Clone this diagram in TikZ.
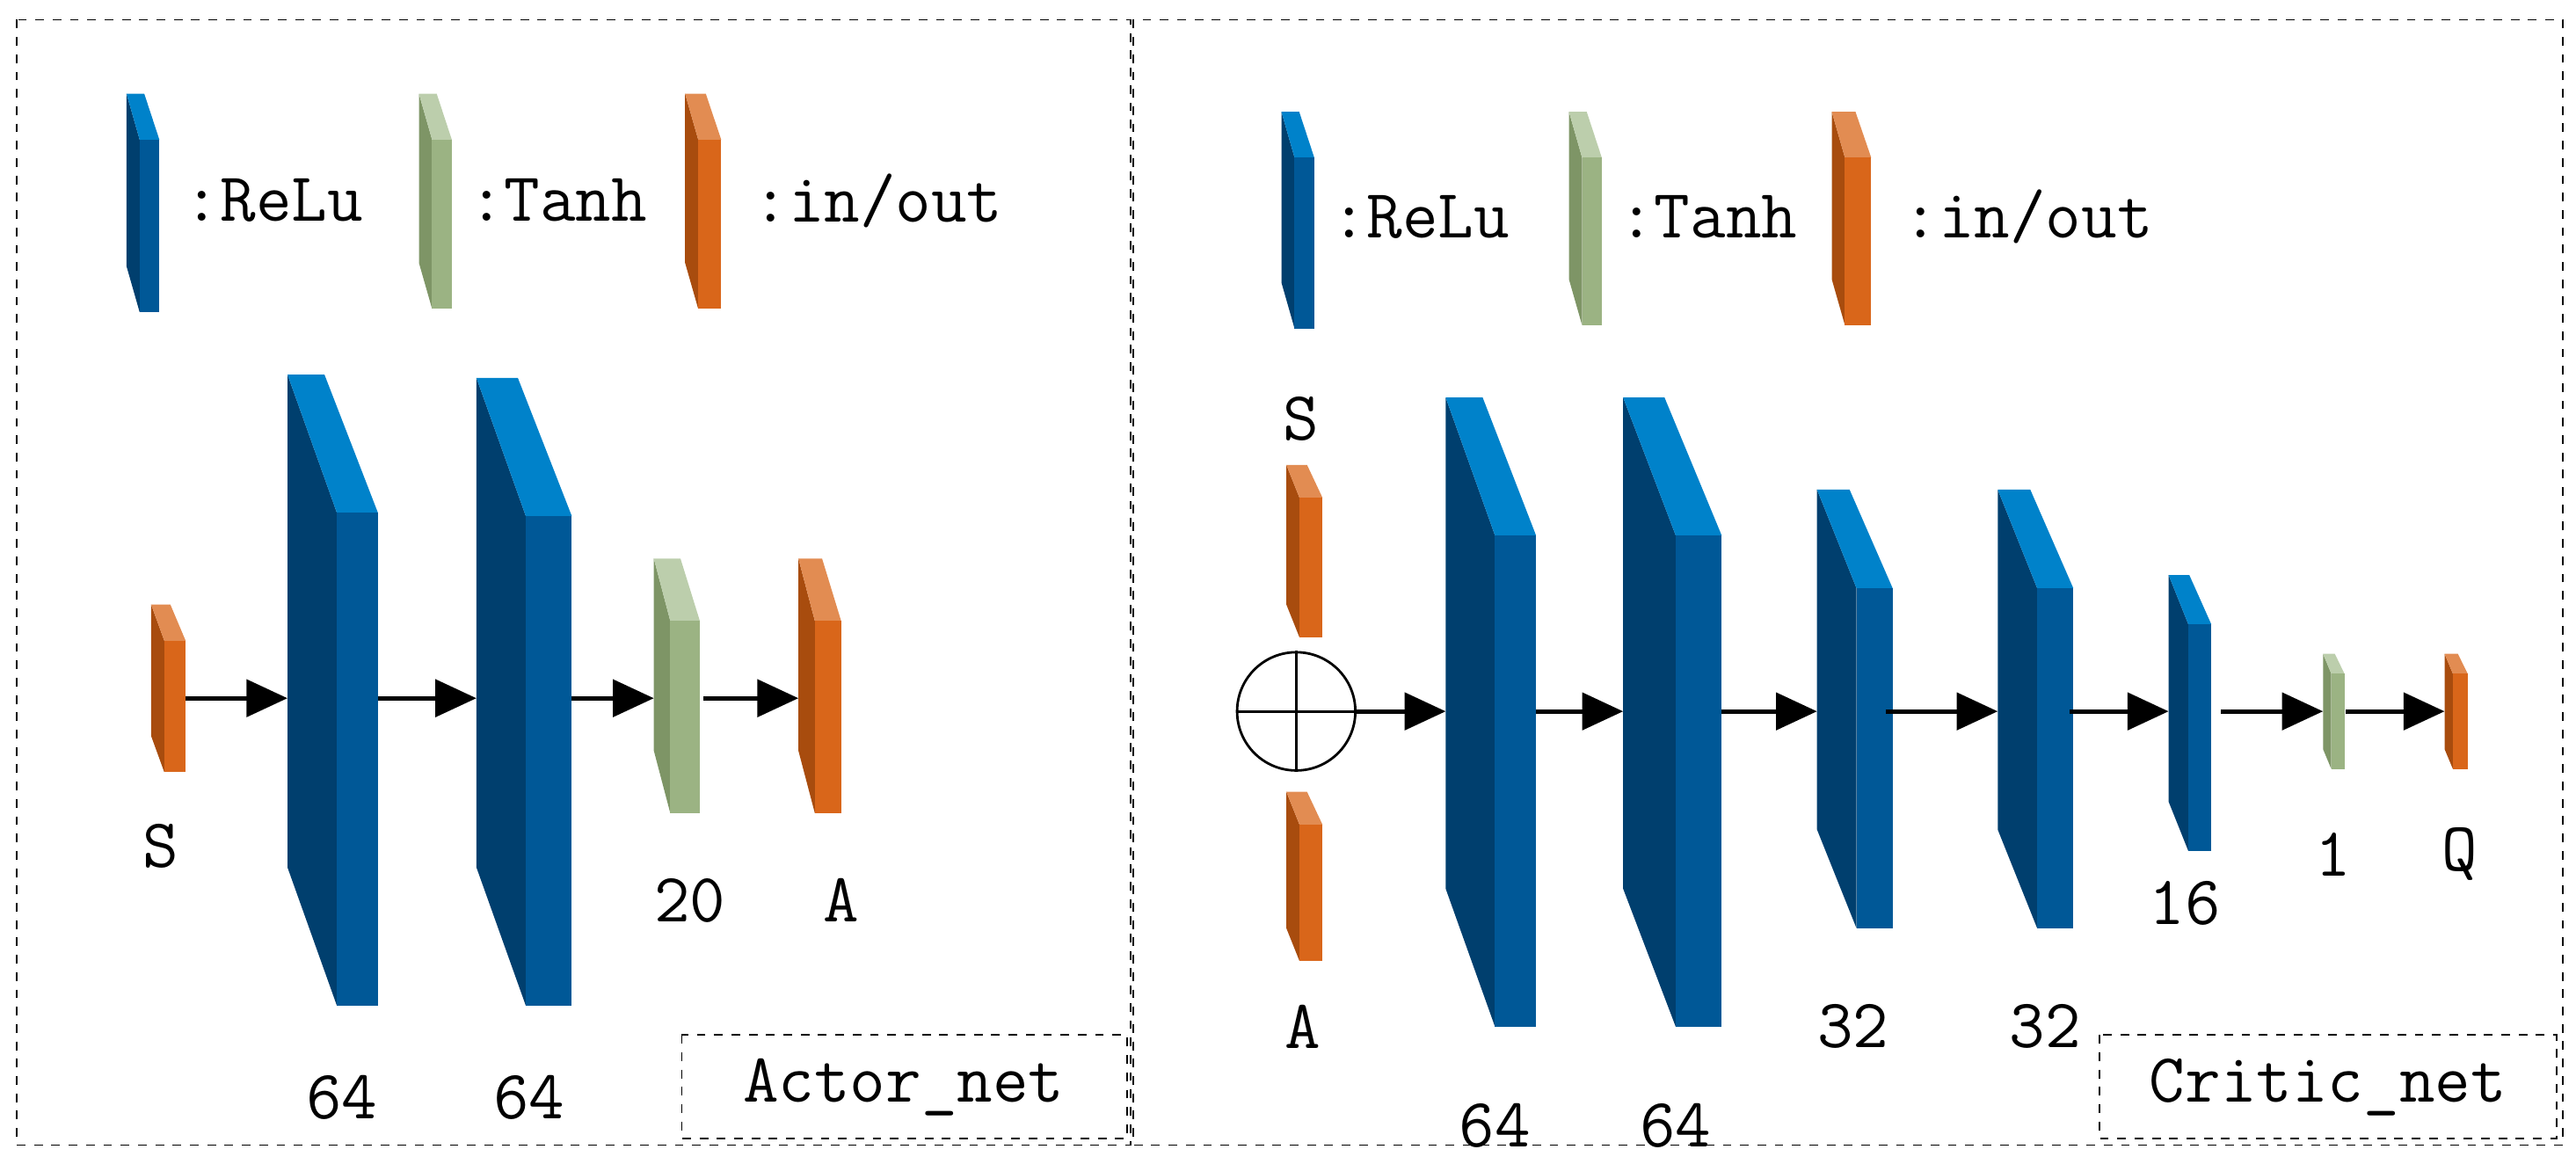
\documentclass[tikz,border=0pt]{standalone}
\usepackage{fontspec}
\usetikzlibrary{arrows.meta}
\definecolor{bT}{HTML}{0082CA}\definecolor{bL}{HTML}{003F6E}\definecolor{bF}{HTML}{005897}
\definecolor{gT}{HTML}{BCCEAC}\definecolor{gL}{HTML}{7E9566}\definecolor{gF}{HTML}{9BB383}
\definecolor{oT}{HTML}{E28C52}\definecolor{oL}{HTML}{A84C0E}\definecolor{oF}{HTML}{D9661A}
% \layer{x0}{d}{w}{ytop}{dy}{ybot}{prefix}
\newcommand\layer[7]{%
  \fill[#7L] (#1,#4) -- ({#1+#2},{#4+#5}) -- ({#1+#2},#6) -- (#1,{#6-#5}) -- cycle;
  \fill[#7T] (#1,#4) -- ({#1+#3*0.9},#4) -- ({#1+#2+#3},{#4+#5}) -- ({#1+#2},{#4+#5}) -- cycle;
  \fill[#7F] ({#1+#2},{#4+#5}) rectangle ({#1+#2+#3},#6);
}
\tikzset{x=0.02cm,y=-0.02cm,
  arr/.style={line width=0.055cm,-{Triangle[length=0.5cm,width=0.45cm]}},
  lbl/.style={font=\ttfamily\fontsize{24}{28}\selectfont,inner sep=0pt},
  frame/.style={dashed,line width=0.02cm}}
\begin{document}
\begin{tikzpicture}
\useasboundingbox (0,0) rectangle (1568,708);
\draw[frame] (10,12) rectangle (688,697);
\draw[frame] (690,12) rectangle (1560,697);
\draw[frame] (415,630) rectangle (686,693);
\draw[frame] (1278,630) rectangle (1556,693);
\node[lbl] (an) at (550,662) {Actor\_net};
\node[lbl] (cn) at (1417,662) {Critic\_net};
% legends
\layer{77}{8}{12}{57}{28}{190}{b}\node[lbl,anchor=west] (l1) at (112,122) {:ReLu};
\layer{255}{8}{12}{57}{28}{188}{g}\node[lbl,anchor=west] (l2) at (285,122) {:Tanh};
\layer{417}{8}{14}{57}{28}{188}{o}\node[lbl,anchor=west] (l3) at (458,122) {:in/out};
\layer{780}{8}{12}{68}{28}{200}{b}\node[lbl,anchor=west] (l4) at (810,132) {:ReLu};
\layer{955}{8}{12}{68}{28}{198}{g}\node[lbl,anchor=west] (l5) at (985,132) {:Tanh};
\layer{1115}{8}{16}{68}{28}{198}{o}\node[lbl,anchor=west] (l6) at (1158,132) {:in/out};
% actor
\layer{92}{8}{13}{368}{22}{470}{o}
\layer{175}{30}{25}{228}{84}{612}{b}
\layer{290}{30}{28}{230}{84}{612}{b}
\layer{398}{10}{18}{340}{38}{495}{g}
\layer{486}{10}{16}{340}{38}{495}{o}
\foreach \a/\b [count=\i] in {113/175,230/290,348/398,428/486}{
  \coordinate (as\i) at (\a,425); \coordinate (ae\i) at (\b,425);
  \draw[arr] (as\i) -- (ae\i);}
\node[lbl] (t1) at (98,515) {S};
\node[lbl] (t2) at (208,668) {64};
\node[lbl] (t3) at (322,668) {64};
\node[lbl] (t4) at (420,548) {20};
\node[lbl] (t5) at (512,548) {A};
% critic
\node[lbl] (t6) at (792,255) {S};
\layer{783}{8}{14}{283}{20}{388}{o}
\node[circle,draw,line width=0.03cm,minimum size=1.44cm,inner sep=0pt] (op) at (789,433) {};
\draw[line width=0.03cm] (op.north) -- (op.south) (op.west) -- (op.east);
\layer{783}{8}{14}{482}{20}{585}{o}
\node[lbl] (t7) at (793,625) {A};
\layer{880}{30}{25}{242}{84}{625}{b}
\layer{988}{32}{28}{242}{84}{625}{b}
\layer{1106}{24}{22}{298}{60}{565}{b}
\layer{1216}{24}{22}{298}{60}{565}{b}
\layer{1320}{12}{14}{350}{30}{518}{b}
\layer{1414}{5}{8}{398}{12}{468}{g}
\layer{1488}{5}{9}{398}{12}{468}{o}
\draw[arr] (op.east) -- (880,433);
\foreach \a/\b [count=\i] in {935/988,1048/1106,1148/1216,1260/1320,1352/1414,1428/1488}{
  \coordinate (cs\i) at (\a,433); \coordinate (ce\i) at (\b,433);
  \draw[arr] (cs\i) -- (ce\i);}
\node[lbl] (t8) at (910,685) {64};
\node[lbl] (t9) at (1020,685) {64};
\node[lbl] (t10) at (1128,625) {32};
\node[lbl] (t11) at (1245,625) {32};
\node[lbl] (t12) at (1330,550) {16};
\node[lbl] (t13) at (1420,520) {1};
\node[lbl] (t14) at (1497,520) {Q};
\end{tikzpicture}
\end{document}
